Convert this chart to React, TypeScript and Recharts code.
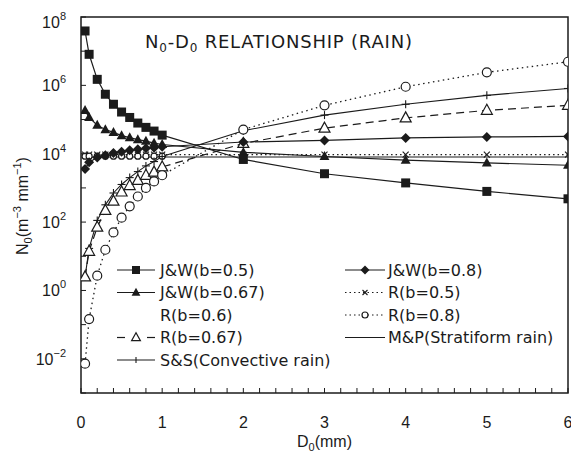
import React from 'react';
import { LineChart, Line, XAxis, YAxis, ReferenceArea, Legend } from 'recharts';

// ---------- data (read from the reference) ----------
const D0 = [0.05, 0.1, 0.2, 0.3, 0.4, 0.5, 0.6, 0.7, 0.8, 0.9, 1.0, 2, 3, 4, 5, 6];
const JW_B050 = [3.9e7, 8.1e6, 1.5e6, 5.5e5, 2.8e5, 1.66e5, 1.15e5, 7.9e4, 5.9e4, 4.6e4, 3.5e4, 6.8e3, 2.6e3, 1.4e3, 7.9e2, 4.8e2];
const JW_B067 = [1.86e5, 1.15e5, 6.8e4, 5.1e4, 4.2e4, 3.4e4, 2.95e4, 2.6e4, 2.35e4, 2.05e4, 1.86e4, 1.1e4, 8.3e3, 6.5e3, 5.4e3, 4.6e3];
const JW_B080 = [3.6e3, 5.6e3, 7.8e3, 9.1e3, 1.05e4, 1.15e4, 1.26e4, 1.35e4, 1.45e4, 1.5e4, 1.6e4, 2.2e4, 2.45e4, 2.9e4, 3.1e4, 3.2e4];
const R_B050 = [9.4e3, 9.4e3, 9.4e3, 9.4e3, 9.4e3, 9.4e3, 9.4e3, 9.4e3, 9.4e3, 9.4e3, 9.4e3, 9.4e3, 9.4e3, 9.4e3, 9.4e3, 9.4e3];
const R_B060 = [8.5e3, 8.5e3, 8.5e3, 8.5e3, 8.5e3, 8.5e3, 8.5e3, 8.5e3, 8.5e3, 8.5e3, 8.5e3, null, null, null, null, null];
const R_B067 = [2.5, 14, 71, 220, 410, 760, 1.17e3, 1.66e3, 2.34e3, 2.9e3, 4.1e3, 2.0e4, 5.6e4, 1.12e5, 1.86e5, 2.6e5];
const R_B080 = [7.2e-3, 0.145, 2.7, 15.5, 50, 135, 290, 560, 1.0e3, 1.55e3, 2.35e3, 5.1e4, 2.6e5, 9.1e5, 2.4e6, 4.9e6];
const MP_STRAT = [8e3, 8e3, 8e3, 8e3, 8e3, 8e3, 8e3, 8e3, 8e3, 8e3, 8e3, 8e3, 8e3, 8e3, 8e3, 8e3];
const SS_CONV = [2.5, 17, 112, 320, 710, 1.26e3, 2.0e3, 3.0e3, 4.4e3, 5.9e3, 8.3e3, 4.7e4, 1.35e5, 2.8e5, 5.1e5, 8.1e5];

const X_TICKS = [0, 0.2, 0.4, 0.6, 0.8, 1, 1.2, 1.4, 1.6, 1.8, 2, 2.2, 2.4, 2.6, 2.8, 3, 3.2, 3.4, 3.6, 3.8, 4, 4.2, 4.4, 4.6, 4.8, 5, 5.2, 5.4, 5.6, 5.8, 6];
const Y_TICKS = [1e-3, 1e-2, 1e-1, 1e0, 1e1, 1e2, 1e3, 1e4, 1e5, 1e6, 1e7, 1e8];
const Y_LABEL_EXPONENTS = [8, 6, 4, 2, 0, -2];

const LEGEND_LEFT = ['J&W(b=0.5)', 'J&W(b=0.67)', 'R(b=0.6)', 'R(b=0.67)', 'S&S(Convective rain)'];
const LEGEND_RIGHT = ['J&W(b=0.8)', 'R(b=0.5)', 'R(b=0.8)', 'M&P(Stratiform rain)'];

const data = D0.map((d, i) => ({
  d,
  jw050: JW_B050[i],
  jw067: JW_B067[i],
  jw080: JW_B080[i],
  r050: R_B050[i],
  r060: R_B060[i],
  r067: R_B067[i],
  r080: R_B080[i],
  mp: MP_STRAT[i],
  ss: SS_CONV[i],
}));

// ---------- layout ----------
const W = 571;
const H = 458;
const PLOT_LEFT = 81;
const PLOT_RIGHT = 568;
const PLOT_TOP = 17;
const PLOT_BOTTOM = 393;
const INK = '#1b1b1b';
const FONT = '"Liberation Sans", Arial, sans-serif';
const WIDE_FONT = '"DejaVu Sans", "Liberation Sans", sans-serif';

// ---------- marker shapes ----------
type MP = { cx: number; cy: number; s: number };
const Square = ({ cx, cy, s }: MP) => <rect x={cx - s / 2} y={cy - s / 2} width={s} height={s} fill={INK} />;
const TriFilled = ({ cx, cy, s }: MP) => (
  <polygon points={`${cx},${cy - s * 0.6} ${cx - s * 0.55},${cy + s * 0.4} ${cx + s * 0.55},${cy + s * 0.4}`} fill={INK} />
);
const TriOpen = ({ cx, cy, s }: MP) => (
  <polygon points={`${cx},${cy - s * 0.6} ${cx - s * 0.55},${cy + s * 0.4} ${cx + s * 0.55},${cy + s * 0.4}`} fill="#fff" stroke={INK} strokeWidth={1.2} />
);
const Diamond = ({ cx, cy, s }: MP) => (
  <polygon points={`${cx},${cy - s / 2} ${cx + s / 2},${cy} ${cx},${cy + s / 2} ${cx - s / 2},${cy}`} fill={INK} />
);
const CircleOpen = ({ cx, cy, s }: MP) => <circle cx={cx} cy={cy} r={s / 2} fill="#fff" stroke={INK} strokeWidth={1.2} />;
const Plus = ({ cx, cy, s }: MP) => (
  <g stroke={INK} strokeWidth={1.1}>
    <line x1={cx - s / 2} x2={cx + s / 2} y1={cy} y2={cy} />
    <line x1={cx} x2={cx} y1={cy - s / 2} y2={cy + s / 2} />
  </g>
);
const Cross = ({ cx, cy, s }: MP) => (
  <g stroke={INK} strokeWidth={1.1}>
    <line x1={cx - s / 2} x2={cx + s / 2} y1={cy - s / 2} y2={cy + s / 2} />
    <line x1={cx - s / 2} x2={cx + s / 2} y1={cy + s / 2} y2={cy - s / 2} />
  </g>
);

const makeDot = (Shape: (p: MP) => React.ReactElement, s: number) => (p: any) => {
  const key = `dot-${p.index}`;
  if (p.cx == null || p.cy == null || p.value == null || Number.isNaN(p.cy)) return <g key={key} />;
  return <g key={key}><Shape cx={p.cx} cy={p.cy} s={s} /></g>;
};

// ---------- ticks ----------
const XTick = (props: any) => {
  const v = props.payload.value;
  const x = props.x;
  const isMajor = Math.abs(v - Math.round(v)) < 1e-6;
  return (
    <g>
      <line x1={x} x2={x} y1={PLOT_BOTTOM} y2={PLOT_BOTTOM - 5} stroke={INK} strokeWidth={1} />
      {isMajor && (
        <text x={x} y={428} textAnchor="middle" fontSize={16} fontFamily={FONT} fill={INK}>
          {Math.round(v)}
        </text>
      )}
    </g>
  );
};

const YTick = (props: any) => {
  const v = props.payload.value;
  const y = props.y;
  const exp = Math.round(Math.log10(v));
  const show = Y_LABEL_EXPONENTS.includes(exp);
  const ty = Math.max(y, 22);
  return (
    <g>
      <line x1={PLOT_LEFT} x2={PLOT_LEFT + 5} y1={y} y2={y} stroke={INK} strokeWidth={1} />
      {show && (
        <text x={66} y={ty + 6} textAnchor="end" fontSize={16} fontFamily={FONT} fill={INK}>
          10
          <tspan dy={-8} fontSize={11}>{exp < 0 ? `\u2212${Math.abs(exp)}` : `${exp}`}</tspan>
        </text>
      )}
    </g>
  );
};

// ---------- labels ----------
const XAxisTitle = () => (
  <text x={(PLOT_LEFT + PLOT_RIGHT) / 2} y={447} textAnchor="middle" fontSize={16} fontFamily={FONT} fill={INK}>
    D<tspan dy={4} fontSize={11}>0</tspan>
    <tspan dy={-4}>(mm)</tspan>
  </text>
);

const YAxisTitle = () => (
  <text
    x={0}
    y={0}
    transform="translate(28,206) rotate(-90)"
    textAnchor="middle"
    fontSize={16}
    fontFamily={FONT}
    fill={INK}
  >
    N<tspan dy={4} fontSize={11}>0</tspan>
    <tspan dy={-4}>(m</tspan>
    <tspan dy={-7} fontSize={11}>{'\u22123'}</tspan>
    <tspan dy={7}> mm</tspan>
    <tspan dy={-7} fontSize={11}>{'\u22121'}</tspan>
    <tspan dy={7}>)</tspan>
  </text>
);

const ChartTitle = () => (
  <text x={145} y={48} fontSize={18} letterSpacing={0.8} fontFamily={WIDE_FONT} fill={INK}>
    N<tspan dy={4} fontSize={12}>0</tspan>
    <tspan dy={-4}>-D</tspan>
    <tspan dy={4} fontSize={12}>0</tspan>
    <tspan dy={-4}> RELATIONSHIP (RAIN)</tspan>
  </text>
);

// ---------- legend ----------
const LegendSample = ({ x1, x2, y, kind }: { x1: number; x2: number; y: number; kind: string }) => {
  const cx = (x1 + x2) / 2;
  switch (kind) {
    case 'J&W(b=0.5)':
      return <g><line x1={x1} x2={x2} y1={y} y2={y} stroke={INK} strokeWidth={1.2} /><Square cx={cx} cy={y} s={8} /></g>;
    case 'J&W(b=0.67)':
      return <g><line x1={x1} x2={x2} y1={y} y2={y} stroke={INK} strokeWidth={1.2} /><TriFilled cx={cx} cy={y} s={8} /></g>;
    case 'R(b=0.67)':
      return (
        <g>
          <line x1={x1} x2={x1 + 8} y1={y} y2={y} stroke={INK} strokeWidth={1.2} />
          <line x1={x2 - 8} x2={x2} y1={y} y2={y} stroke={INK} strokeWidth={1.2} />
          <TriOpen cx={cx} cy={y} s={8} />
        </g>
      );
    case 'S&S(Convective rain)':
      return (
        <g>
          <line x1={x1} x2={x2} y1={y} y2={y} stroke={INK} strokeWidth={1.2} />
          <line x1={cx} x2={cx} y1={y - 3} y2={y + 3} stroke={INK} strokeWidth={1.1} />
        </g>
      );
    case 'J&W(b=0.8)':
      return <g><line x1={x1} x2={x2} y1={y} y2={y} stroke={INK} strokeWidth={1.2} /><Diamond cx={cx} cy={y} s={9} /></g>;
    case 'R(b=0.5)':
      return (
        <g>
          <line x1={x1} x2={x2} y1={y} y2={y} stroke={INK} strokeWidth={1.2} strokeDasharray="1.5 3" />
          <Cross cx={cx} cy={y} s={5} />
        </g>
      );
    case 'R(b=0.8)':
      return (
        <g>
          <line x1={x1} x2={x2} y1={y} y2={y} stroke={INK} strokeWidth={1.2} strokeDasharray="1.5 3" />
          <CircleOpen cx={cx} cy={y} s={6} />
        </g>
      );
    case 'M&P(Stratiform rain)':
      return <line x1={x1} x2={x2} y1={y} y2={y} stroke={INK} strokeWidth={1.2} />;
    default:
      return null;
  }
};

const LEGEND_ROWS_Y = [270, 292.5, 315, 337.5, 360];

const LegendContent = () => (
  <svg width={W} height={H} style={{ position: 'absolute', left: 0, top: 0, overflow: 'visible' }}>
    {LEGEND_LEFT.map((name, i) => (
      <g key={name}>
        <LegendSample x1={117} x2={155} y={LEGEND_ROWS_Y[i]} kind={name} />
        <text x={160} y={LEGEND_ROWS_Y[i] + 5.5} fontSize={16} fontFamily={WIDE_FONT} fill={INK}>{name}</text>
      </g>
    ))}
    {LEGEND_RIGHT.map((name, i) => (
      <g key={name}>
        <LegendSample x1={345} x2={385} y={LEGEND_ROWS_Y[i]} kind={name} />
        <text x={388} y={LEGEND_ROWS_Y[i] + 5.5} fontSize={16} fontFamily={WIDE_FONT} fill={INK}>{name}</text>
      </g>
    ))}
  </svg>
);

export default function App() {
  return (
    <div style={{ position: 'absolute', left: 0, top: 0, width: W, height: H, background: '#fff' }}>
      <LineChart
        width={W}
        height={H}
        data={data}
        margin={{ top: PLOT_TOP, right: W - PLOT_RIGHT, left: 0, bottom: 0 }}
      >
        <XAxis
          dataKey="d"
          type="number"
          domain={[0, 6]}
          ticks={X_TICKS}
          interval={0}
          height={H - PLOT_BOTTOM}
          axisLine={false}
          tickLine={false}
          tick={<XTick />}
          label={<XAxisTitle />}
          allowDataOverflow
        />
        <YAxis
          type="number"
          scale="log"
          domain={[1e-3, 1e8]}
          ticks={Y_TICKS}
          interval={0}
          width={PLOT_LEFT}
          axisLine={false}
          tickLine={false}
          tick={<YTick />}
          label={<YAxisTitle />}
          allowDataOverflow
        />
        <ReferenceArea
          x1={0}
          x2={6}
          y1={1e-3}
          y2={1e8}
          fill="none"
          fillOpacity={0}
          stroke={INK}
          strokeWidth={1.5}
          ifOverflow="visible"
          label={<ChartTitle />}
        />
        <Legend
          layout="horizontal"
          verticalAlign="middle"
          align="center"
          content={<LegendContent />}
          wrapperStyle={{ position: 'absolute', left: 0, top: 0, width: W, height: H, pointerEvents: 'none' }}
        />
        <Line dataKey="mp" name="M&P(Stratiform rain)" stroke={INK} strokeWidth={1.1} dot={false} isAnimationActive={false} />
        <Line dataKey="r050" name="R(b=0.5)" stroke={INK} strokeWidth={1.2} strokeDasharray="1.5 3" dot={makeDot(Cross, 6)} isAnimationActive={false} />
        <Line dataKey="r060" name="R(b=0.6)" stroke="none" dot={makeDot(CircleOpen, 6)} isAnimationActive={false} />
        <Line dataKey="ss" name="S&S(Convective rain)" stroke={INK} strokeWidth={1.1} dot={makeDot(Plus, 8)} isAnimationActive={false} />
        <Line dataKey="r067" name="R(b=0.67)" stroke={INK} strokeWidth={1.2} strokeDasharray="8 5" dot={makeDot(TriOpen, 10)} isAnimationActive={false} />
        <Line dataKey="r080" name="R(b=0.8)" stroke={INK} strokeWidth={1.3} strokeDasharray="1.5 3.5" dot={makeDot(CircleOpen, 9)} isAnimationActive={false} />
        <Line dataKey="jw080" name="J&W(b=0.8)" stroke={INK} strokeWidth={1.2} dot={makeDot(Diamond, 10)} isAnimationActive={false} />
        <Line dataKey="jw067" name="J&W(b=0.67)" stroke={INK} strokeWidth={1.2} dot={makeDot(TriFilled, 9)} isAnimationActive={false} />
        <Line dataKey="jw050" name="J&W(b=0.5)" stroke={INK} strokeWidth={1.2} dot={makeDot(Square, 9)} isAnimationActive={false} />
      </LineChart>
    </div>
  );
}
